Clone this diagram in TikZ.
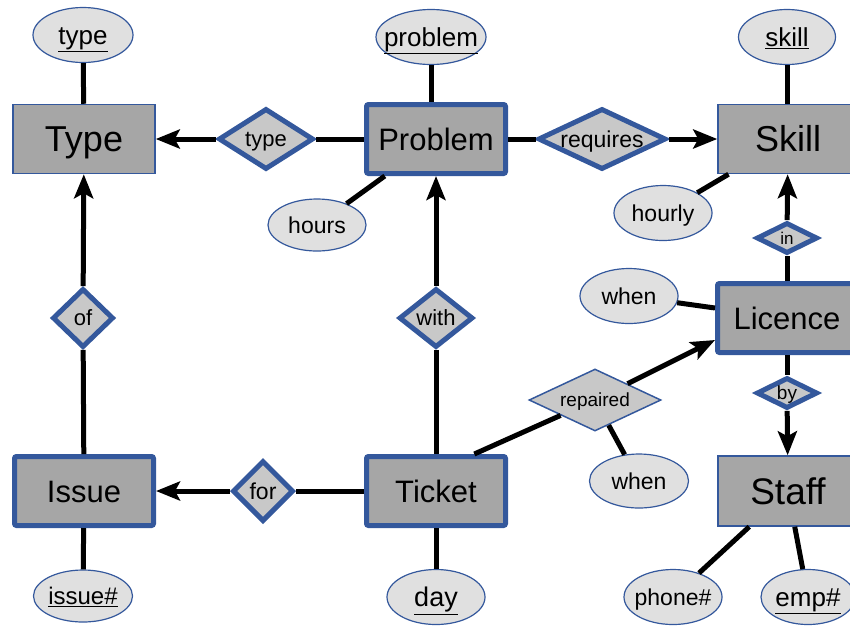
\documentclass[tikz,border=0pt]{standalone}
\usepackage{fontspec}
\setmainfont{Liberation Sans}
\usetikzlibrary{shapes.geometric,arrows.meta}
\definecolor{erblue}{RGB}{52,88,156}
\definecolor{entfill}{RGB}{166,166,166}
\definecolor{attfill}{RGB}{224,224,224}
\definecolor{relfill}{RGB}{200,200,200}
\newcommand{\fs}[1]{\fontsize{#1}{#1}\selectfont}
\newcommand{\zb}[1]{\makebox[0pt]{\raisebox{-0.36em}[0pt][0pt]{#1}}}
\begin{document}
\begin{tikzpicture}[x=1pt,y=-1pt,
 entity/.style={draw=erblue, fill=entfill, rectangle, minimum width=142pt, minimum height=69pt, inner sep=0pt, line width=1.5pt},
 strongent/.style={entity, line width=5pt, rounded corners=2pt, minimum width=139pt, minimum height=69pt},
 attr/.style={draw=erblue, fill=attfill, ellipse, minimum width=98pt, minimum height=55pt, inner sep=0pt, line width=1.2pt, font=\fs{23}},
 keyattr/.style={attr, font=\fs{26}},
 rel/.style={draw=erblue, fill=relfill, diamond, inner sep=0pt, line width=5pt, font=\fs{22}},
 conn/.style={line width=5pt, black},
 arr/.style={conn, -{Stealth[length=24pt,width=19pt,inset=5pt]}},
]
\useasboundingbox (0,0) rectangle (850,625);

% entities
\node[entity, font=\fs{36}] (Type) at (84,139) {\zb{Type}};
\node[strongent, font=\fs{31}] (Problem) at (436,139) {\zb{Problem}};
\node[entity, font=\fs{36}, minimum width=140pt] (Skill) at (788,139) {\zb{Skill}};
\node[strongent, font=\fs{31}] (Licence) at (787,318) {\zb{Licence}};
\node[entity, font=\fs{37}, minimum width=140pt, minimum height=70pt] (Staff) at (788,491) {\zb{Staff}};
\node[strongent, font=\fs{31}] (Issue) at (84,491) {\zb{Issue}};
\node[strongent, font=\fs{31}] (Ticket) at (436,491) {\zb{Ticket}};

% attributes
\node[keyattr, minimum width=100pt] (atype) at (83,35) {\zb{\underline{type}}};
\node[keyattr, minimum width=110pt] (aproblem) at (431,37) {\zb{\underline{problem}}};
\node[keyattr, minimum width=97pt] (askill) at (787,37) {\zb{\underline{skill}}};
\node[attr, minimum height=52pt] (ahours) at (317,225) {\zb{hours}};
\node[attr] (ahourly) at (663,213) {\zb{hourly}};
\node[attr] (awhen) at (629,296) {\zb{when}};
\node[attr, minimum width=99pt, minimum height=54pt] (awhentwo) at (639,481) {\zb{when}};
\node[attr] (aphone) at (673,597) {\zb{phone\#}};
\node[keyattr, minimum width=94pt] (aemp) at (808,597) {\zb{\underline{emp\#}}};
\node[keyattr, font=\fs{24}, minimum width=99pt, minimum height=52pt] (aissue) at (83,596) {\zb{\underline{issue\#}}};
\node[keyattr, font=\fs{27}] (aday) at (436,597) {\zb{\underline{day}}};

% relationships
\node[rel, minimum width=95pt, minimum height=61pt] (rtype) at (266,139) {\zb{type}};
\node[rel, minimum width=128pt, minimum height=61pt, font=\fs{23}] (rrequires) at (602,139) {\zb{requires}};
\node[rel, minimum width=61pt, minimum height=31pt, font=\fs{17}] (rin) at (787,238) {\zb{in}};
\node[rel, minimum width=61pt, minimum height=31pt, font=\fs{19}] (rby) at (787,393) {\zb{by}};
\node[rel, minimum width=61pt, minimum height=59pt] (rof) at (83,318) {\zb{of}};
\node[rel, minimum width=61pt, minimum height=61pt, font=\fs{23}] (rfor) at (263,491) {\zb{for}};
\node[rel, minimum width=74pt, minimum height=59pt] (rwith) at (436,318) {\zb{with}};
\node[rel, line width=1.5pt, minimum width=132pt, minimum height=62pt, font=\fs{19}] (rrepaired) at (595,400) {\zb{repaired}};

% attribute links
\draw[conn] (atype) -- (Type);
\draw[conn] (aproblem.south) -- (aproblem.south |- Problem.north);
\draw[conn] (askill) -- (Skill.north -| askill);
\draw[conn] (ahours) -- (Problem);
\draw[conn] (ahourly) -- (Skill);
\draw[conn] (awhen) -- (Licence);
\draw[conn] (aphone) -- (Staff);
\draw[conn] (aemp) -- (Staff);
\draw[conn] (aissue) -- (Issue);
\draw[conn] (aday) -- (Ticket);
\draw[conn] (rrepaired) -- (awhentwo);

% relationship links
\draw[arr] (rtype) -- (Type);
\draw[conn] (Problem) -- (rtype);
\draw[conn] (Problem) -- (rrequires);
\draw[arr] (rrequires) -- (Skill);
\draw[conn] (Licence) -- (rin);
\draw[arr] (rin) -- (Skill);
\draw[conn] (Licence) -- (rby);
\draw[arr] (rby) -- (Staff);
\draw[conn] (Issue) -- (rof);
\draw[arr] (rof) -- (Type);
\draw[conn] (Ticket) -- (rfor);
\draw[arr] (rfor) -- (Issue);
\draw[conn] (Ticket) -- (rwith);
\draw[arr] (rwith) -- (Problem);
\draw[conn] (Ticket.44) -- (rrepaired);
\draw[arr] (rrepaired) -- (Licence.197);
\end{tikzpicture}
\end{document}
